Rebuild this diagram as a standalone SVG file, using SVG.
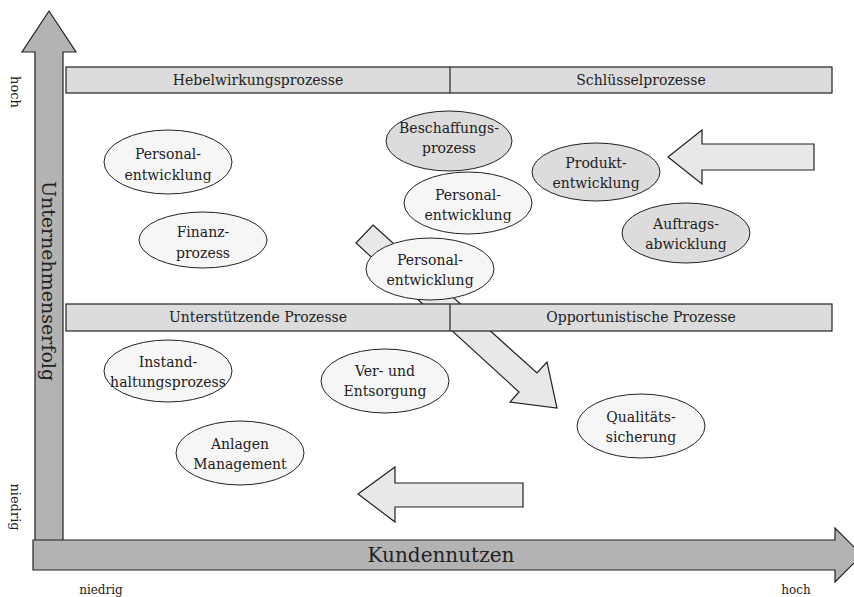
<svg xmlns="http://www.w3.org/2000/svg" width="854" height="597" viewBox="0 0 854 597">
<style>
text{font-family:"DejaVu Serif","Liberation Serif",serif;fill:#222;text-anchor:middle}
.t{font-size:14px}
.s{font-size:12px}
.r{font-size:13px}
.b{font-size:19px}
.axis{fill:#b3b3b3;stroke:#222;stroke-width:1.2}
.bar{fill:#dcdcdc;stroke:#222;stroke-width:1.2}
.arr{fill:#e8e8e8;stroke:#222;stroke-width:1.2}
.el{fill:#f6f6f6;stroke:#222;stroke-width:1}
.eg{fill:#dcdcdc;stroke:#222;stroke-width:1}
</style>
<rect width="854" height="597" fill="#fff"/>
<g id="axis-y">
<polygon class="axis" points="49,11 76,52 63,52 63,541 35,541 35,52 22,52"/>
<text class="b" transform="translate(42,281) rotate(90)">Unternehmenserfolg</text>
<text class="r" transform="translate(11,92) rotate(90)">hoch</text>
<text class="r" transform="translate(11,507) rotate(90)">niedrig</text>
</g>
<g id="axis-x">
<polygon class="axis" points="33,540 835,540 835,528 862,555 835,582 835,570 33,570"/>
<text class="b" x="441" y="562" style="font-size:20px">Kundennutzen</text>
<text class="s" x="101" y="594">niedrig</text>
<text class="s" x="796" y="594">hoch</text>
</g>
<g id="connectors">
<polygon class="arr" points="373,225 537,373 547,362 557,408 510,402 519,392 356,243"/>
<polygon class="arr" points="814,144 702,144 702,130 668,157 702,184 702,170 814,170"/>
<polygon class="arr" points="523,483 395,483 395,467 358,494 395,522 395,507 523,507"/>
</g>
<g id="bar-top">
<rect class="bar" x="66" y="67" width="766" height="26"/>
<line x1="450" y1="67" x2="450" y2="93" stroke="#222" stroke-width="1.2"/>
<text class="t" x="258" y="85">Hebelwirkungsprozesse</text>
<text class="t" x="641" y="85">Schlüsselprozesse</text>
</g>
<g id="bar-mid">
<rect class="bar" x="66" y="304" width="766" height="27"/>
<line x1="450" y1="304" x2="450" y2="331" stroke="#222" stroke-width="1.2"/>
<text class="t" x="258" y="322">Unterstützende Prozesse</text>
<text class="t" x="641" y="322">Opportunistische Prozesse</text>
</g>
<g id="n-personal1">
<ellipse class="el" cx="168" cy="162" rx="64" ry="32"/>
<text class="t" x="168" y="159">Personal-</text>
<text class="t" x="168" y="180">entwicklung</text>
</g>
<g id="n-finanz">
<ellipse class="el" cx="203" cy="240" rx="64" ry="28"/>
<text class="t" x="203" y="237">Finanz-</text>
<text class="t" x="203" y="258">prozess</text>
</g>
<g id="n-beschaffung">
<ellipse class="eg" cx="449" cy="141" rx="63" ry="30"/>
<text class="t" x="449" y="133">Beschaffungs-</text>
<text class="t" x="449" y="153">prozess</text>
</g>
<g id="n-personal2">
<ellipse class="el" cx="468" cy="203" rx="64" ry="31"/>
<text class="t" x="468" y="200">Personal-</text>
<text class="t" x="468" y="220">entwicklung</text>
</g>
<g id="n-produkt">
<ellipse class="eg" cx="596" cy="172" rx="64" ry="29"/>
<text class="t" x="596" y="168">Produkt-</text>
<text class="t" x="596" y="188">entwicklung</text>
</g>
<g id="n-auftrag">
<ellipse class="eg" cx="686" cy="233" rx="64" ry="30"/>
<text class="t" x="686" y="229">Auftrags-</text>
<text class="t" x="686" y="249">abwicklung</text>
</g>
<g id="n-personal3">
<ellipse class="el" cx="430" cy="269" rx="64" ry="31"/>
<text class="t" x="430" y="265">Personal-</text>
<text class="t" x="430" y="285">entwicklung</text>
</g>
<g id="n-instand">
<ellipse class="el" cx="168" cy="371" rx="64" ry="31"/>
<text class="t" x="168" y="367">Instand-</text>
<text class="t" x="168" y="387">haltungsprozess</text>
</g>
<g id="n-ver">
<ellipse class="el" cx="385" cy="381" rx="64" ry="32"/>
<text class="t" x="385" y="376">Ver- und</text>
<text class="t" x="385" y="396">Entsorgung</text>
</g>
<g id="n-anlagen">
<ellipse class="el" cx="240" cy="453" rx="64" ry="32"/>
<text class="t" x="240" y="449">Anlagen</text>
<text class="t" x="240" y="469">Management</text>
</g>
<g id="n-qualitaet">
<ellipse class="el" cx="641" cy="426" rx="64" ry="32"/>
<text class="t" x="641" y="422">Qualitäts-</text>
<text class="t" x="641" y="442">sicherung</text>
</g>
</svg>
